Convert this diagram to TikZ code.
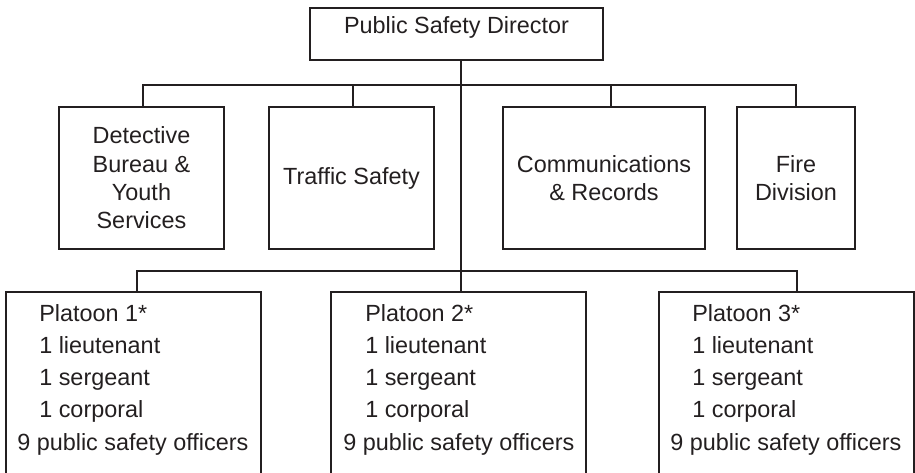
\documentclass[tikz,border=0pt]{standalone}
\usepackage{fontspec}
\setmainfont{Liberation Sans}
\usepackage{tikz}
\usetikzlibrary{positioning}
\definecolor{ink}{HTML}{231F20}
\tikzstyle{office} = [rectangle, draw=ink, line width=1.8pt, inner sep=0pt, text=ink, align=center, font=\fontsize{23.4}{28.3}\selectfont]
\tikzstyle{platoon} = [rectangle, draw=ink, line width=1.8pt, minimum width=255pt, minimum height=200pt]
\tikzstyle{roster} = [inner sep=0pt, text=ink, align=left, anchor=north west, font=\fontsize{23.4}{32.2}\selectfont]
\tikzstyle{line} = [draw=ink, line width=1.8pt]

\begin{document}
\begin{tikzpicture}[x=1pt,y=1pt]
	\useasboundingbox (0,0) rectangle (915,-473);
	\clip (0,0) rectangle (915,-473);

	\node[office, minimum width=293pt, minimum height=52pt, text height=17pt, text depth=17pt](director) at (456.5,-34){Public Safety Director};
	\node[office, minimum width=165pt, minimum height=142pt](detective) at (141.5,-178){Detective \\ Bureau \& \\ Youth \\ Services};
	\node[office, minimum width=165pt, minimum height=142pt, right of=detective, node distance=210pt](traffic){Traffic Safety};
	\node[office, minimum width=202pt, minimum height=142pt, right of=traffic, node distance=252.5pt](comm){Communications \\ \& Records};
	\node[office, minimum width=118pt, minimum height=142pt, right of=comm, node distance=192pt](fire){Fire \\ Division};
	\node[platoon](plt1) at (133.5,-392){};
	\node[platoon, right of=plt1, node distance=325pt](plt2){};
	\node[platoon, right of=plt2, node distance=328pt](plt3){};

	\node[roster](plt1txt) at ([xshift=12pt,yshift=-13pt]plt1.north west){\hspace*{22pt}Platoon 1*\\ \hspace*{22pt}1 lieutenant\\ \hspace*{22pt}1 sergeant\\ \hspace*{22pt}1 corporal\\ 9 public safety officers};
	\node[roster](plt2txt) at ([xshift=13pt,yshift=-13pt]plt2.north west){\hspace*{22pt}Platoon 2*\\ \hspace*{22pt}1 lieutenant\\ \hspace*{22pt}1 sergeant\\ \hspace*{22pt}1 corporal\\ 9 public safety officers};
	\node[roster](plt3txt) at ([xshift=12pt,yshift=-13pt]plt3.north west){\hspace*{22pt}Platoon 3*\\ \hspace*{22pt}1 lieutenant\\ \hspace*{22pt}1 sergeant\\ \hspace*{22pt}1 corporal\\ 9 public safety officers};

	\path[line]([xshift=4.5pt]director.south) -- ([xshift=2.5pt]plt2.north);
	\path[line]([xshift=1.5pt]detective.north) -- ++(0,21) -| (fire.north);
	\path[line]([xshift=1.5pt]traffic.north)   -- ++(0,21);
	\path[line]([xshift=7pt]comm.north)        -- ++(0,21);
	\path[line]([xshift=3.5pt]plt1.north)      -- ++(0,20) -| ([xshift=10.5pt]plt3.north);
\end{tikzpicture}
\end{document}
